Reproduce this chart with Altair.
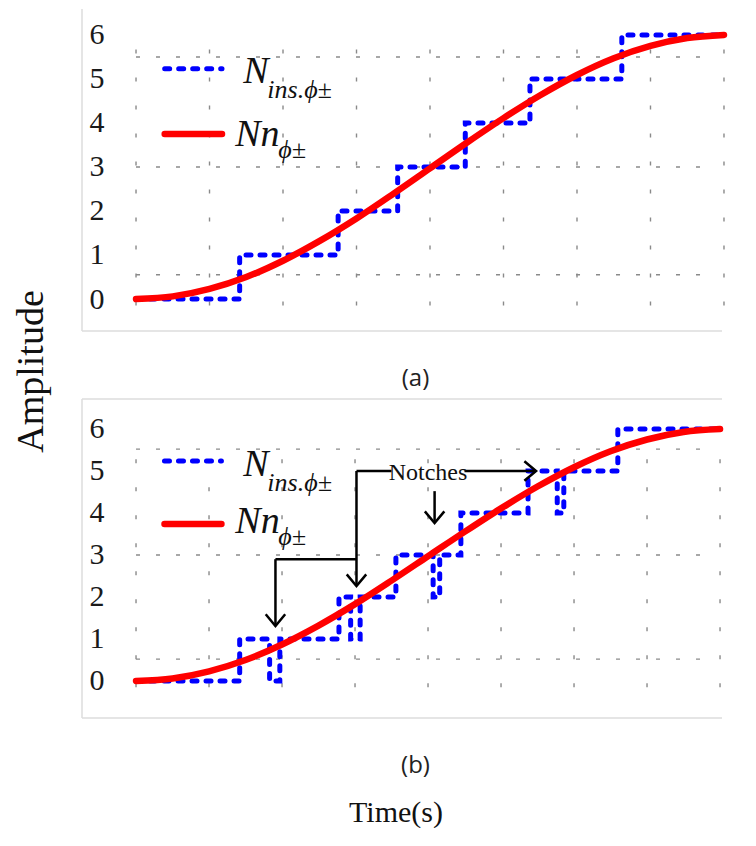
import altair as alt
import pandas as pd

# ---------------- data ----------------
# Panel (a): ideal staircase, step-after corner points (time, level)
step_a_t = [0.0, 1.41, 2.75, 3.56, 4.48, 5.36, 6.61, 8.0]
step_a_v = [0, 1, 2, 3, 4, 5, 6, 6]

# Panel (b): staircase with notches
step_b_t = [0.0, 1.42, 1.83, 1.97, 2.78, 2.94, 3.07, 3.56, 4.07, 4.16,
            4.45, 5.37, 5.77, 5.86, 6.60, 8.0]
step_b_v = [0, 1, 0, 1, 2, 1, 2, 3, 2, 3, 4, 5, 4, 5, 6, 6]

# Smooth reference curve Nn
curve_t = [0.0, 0.5, 1.0, 1.5, 2.0, 2.5, 3.0, 3.5, 4.0, 4.5, 5.0, 5.5,
           6.0, 6.5, 7.0, 7.5, 8.0]
curve_v = [0.0, 0.06, 0.23, 0.50, 0.87, 1.32, 1.83, 2.39, 2.97, 3.55,
           4.11, 4.63, 5.09, 5.47, 5.75, 5.93, 6.0]

y_ticks = [0, 1, 2, 3, 4, 5, 6]
grid_x = [0, 1, 2, 3, 4, 5, 6, 7, 8]
grid_y_a = [0.55, 3.0, 5.5]
grid_y_b = [0.52, 3.0, 5.52]
grid_v_span = (-0.15, 5.85)
grid_h_span = (0.0, 7.85)

legend_line_t = (0.39, 1.17)
legend_a = {"ins_v": 5.23, "nn_v": 3.75, "ins_txt_t": 1.46, "ins_txt_v": 4.91,
            "nn_txt_t": 1.35, "nn_txt_v": 3.48}
legend_b = {"ins_v": 5.24, "nn_v": 3.74, "ins_txt_t": 1.47, "ins_txt_v": 4.88,
            "nn_txt_t": 1.36, "nn_txt_v": 3.52}

# Notch annotation (panel b) in data units
ann_lines_t = [3.02, 3.02, 1.91, 1.91, 4.50, 4.09]
ann_lines_t2 = [3.50, 3.02, 3.02, 1.91, 5.48, 4.09]
ann_lines_v = [5.0, 5.0, 2.9, 2.9, 5.0, 4.52]
ann_lines_v2 = [5.0, 2.30, 2.9, 1.35, 5.0, 3.80]
arrow_down_t = [1.91, 3.02, 4.09]
arrow_down_v = [1.31, 2.26, 3.76]
arrow_right_t = [5.48]
arrow_right_v = [5.0]
notch_label = ("Notches", 4.0, 4.95)

SERIF = "Liberation Serif"
W = 640
H_A, H_B = 322, 319
XDOM_A = [-0.735, 7.973]
YDOM_A = [-0.727, 6.59]
XDOM_B = [-0.740, 8.027]
YDOM_B = [-0.881, 6.714]

CHEVRON_DOWN = "M-1,-1.2L0,0L1,-1.2"
CHEVRON_RIGHT = "M-1.2,-1L0,0L-1.2,1"


def panel(xdom, ydom, H, step_t, step_v, ctime, cval, grid_y, leg, label,
          ytitle, top_frame, notches):
    xs = alt.Scale(domain=xdom, nice=False, zero=False)
    ys = alt.Scale(domain=ydom, nice=False, zero=False)
    yaxis = alt.Axis(values=y_ticks, format="d", orient="left", offset=-22,
                     labelPadding=0, ticks=False, tickSize=0, domain=False,
                     grid=False, labelFont=SERIF, labelFontSize=30,
                     labelColor="#1a1a1a", labelAlign="right",
                     labelBaseline="middle",
                     title=ytitle if ytitle else "",
                     titleFont=SERIF, titleFontSize=38,
                     titleFontWeight="normal", titleColor="#111",
                     titleX=-62, titleY=362, titleAngle=270,
                     titleBaseline="alphabetic", titleAlign="center")
    xaxis = alt.Axis(labels=False, ticks=False, domain=False, grid=False,
                     title=label, titleFont="Open Sans", titleFontSize=24,
                     titleFontWeight="normal", titleColor="#222",
                     titleX=333, titleY=47, titleBaseline="middle")
    xenc = lambda f: alt.X(f, type="quantitative", scale=xs, axis=xaxis)
    yenc = lambda f: alt.Y(f, type="quantitative", scale=ys, axis=yaxis)

    layers = []
    # dashed grid
    gv = pd.DataFrame({"t": grid_x, "v0": [grid_v_span[0]] * len(grid_x),
                       "v1": [grid_v_span[1]] * len(grid_x)})
    layers.append(alt.Chart(gv).mark_rule(
        color="#8a8a8a", strokeWidth=1.4, strokeDash=[4, 24]).encode(
        x=xenc("t"), y=yenc("v0"), y2="v1"))
    gh = pd.DataFrame({"v": grid_y, "t0": [grid_h_span[0]] * len(grid_y),
                       "t1": [grid_h_span[1]] * len(grid_y)})
    layers.append(alt.Chart(gh).mark_rule(
        color="#8a8a8a", strokeWidth=1.4, strokeDash=[4, 16]).encode(
        y=yenc("v"), x=xenc("t0"), x2="t1"))

    # frame
    layers.append(alt.Chart(pd.DataFrame({"a": [0]})).mark_rule(
        color="#dcdcdc", strokeWidth=1.5).encode(
        x=alt.value(0), y=alt.value(0), y2=alt.value(H)))
    layers.append(alt.Chart(pd.DataFrame({"a": [0]})).mark_rule(
        color="#dcdcdc", strokeWidth=1.5).encode(
        x=alt.value(0), x2=alt.value(W), y=alt.value(H)))
    if top_frame:
        layers.append(alt.Chart(pd.DataFrame({"a": [0]})).mark_rule(
            color="#dcdcdc", strokeWidth=1.5).encode(
            x=alt.value(0), x2=alt.value(W), y=alt.value(0)))

    # staircase
    st = pd.DataFrame({"t": step_t, "v": step_v})
    layers.append(alt.Chart(st).mark_line(
        interpolate="step-after", color="#0000ff", strokeWidth=5,
        strokeDash=[5, 9], strokeCap="round").encode(
        x=xenc("t"), y=yenc("v")))
    # smooth curve
    cv = pd.DataFrame({"t": ctime, "v": cval})
    layers.append(alt.Chart(cv).mark_line(
        interpolate="monotone", color="#ff0000", strokeWidth=6.5,
        strokeCap="round").encode(x=xenc("t"), y=yenc("v")))

    # legend
    lg = pd.DataFrame({"t0": [legend_line_t[0]], "t1": [legend_line_t[1]],
                       "vb": [leg["ins_v"]], "vr": [leg["nn_v"]]})
    layers.append(alt.Chart(lg).mark_rule(
        color="#0000ff", strokeWidth=5, strokeDash=[5, 9],
        strokeCap="round").encode(x=xenc("t0"), x2="t1", y=yenc("vb")))
    layers.append(alt.Chart(lg).mark_rule(
        color="#ff0000", strokeWidth=6.5, strokeCap="round").encode(
        x=xenc("t0"), x2="t1", y=yenc("vr")))
    lt = pd.DataFrame({"t": [leg["ins_txt_t"], leg["nn_txt_t"]],
                       "v": [leg["ins_txt_v"], leg["nn_txt_v"]],
                       "main": ["N", "Nn"]})
    layers.append(alt.Chart(lt).mark_text(
        font=SERIF, fontStyle="italic", fontSize=38, align="left",
        baseline="alphabetic", color="#111").encode(
        x=xenc("t"), y=yenc("v"), text="main:N"))
    ls1 = lt.iloc[[0]].assign(sub=["ins.\u03d5\u00b1"])
    layers.append(alt.Chart(ls1).mark_text(
        font=SERIF, fontStyle="italic", fontSize=26, align="left",
        baseline="alphabetic", color="#111", dx=24, dy=15).encode(
        x=xenc("t"), y=yenc("v"), text="sub:N"))
    ls2 = lt.iloc[[1]].assign(sub=["\u03d5\u00b1"])
    layers.append(alt.Chart(ls2).mark_text(
        font=SERIF, fontStyle="italic", fontSize=26, align="left",
        baseline="alphabetic", color="#111", dx=43, dy=12).encode(
        x=xenc("t"), y=yenc("v"), text="sub:N"))

    if notches:
        al = pd.DataFrame({"t": ann_lines_t, "t2": ann_lines_t2,
                           "v": ann_lines_v, "v2": ann_lines_v2})
        layers.append(alt.Chart(al).mark_rule(
            color="black", strokeWidth=2.5).encode(
            x=xenc("t"), x2="t2", y=yenc("v"), y2="v2"))
        ad = pd.DataFrame({"t": arrow_down_t, "v": arrow_down_v})
        layers.append(alt.Chart(ad).mark_point(
            shape=CHEVRON_DOWN, size=380, filled=False, color="black",
            strokeWidth=2.5, opacity=1).encode(x=xenc("t"), y=yenc("v")))
        ar = pd.DataFrame({"t": arrow_right_t, "v": arrow_right_v})
        layers.append(alt.Chart(ar).mark_point(
            shape=CHEVRON_RIGHT, size=380, filled=False, color="black",
            strokeWidth=2.5, opacity=1).encode(x=xenc("t"), y=yenc("v")))
        nt = pd.DataFrame({"t": [notch_label[1]], "v": [notch_label[2]],
                           "txt": [notch_label[0]]})
        layers.append(alt.Chart(nt).mark_text(
            font=SERIF, fontSize=24, align="center", baseline="middle",
            color="#111").encode(x=xenc("t"), y=yenc("v"), text="txt:N"))

    return alt.layer(*layers).properties(width=W, height=H)


top = panel(XDOM_A, YDOM_A, H_A, step_a_t, step_a_v, curve_t, curve_v,
            grid_y_a, legend_a, "(a)", "Amplitude", False, False)
bottom = panel(XDOM_B, YDOM_B, H_B, step_b_t, step_b_v, curve_t, curve_v,
               grid_y_b, legend_b, "(b)", None, True, True).properties(
    title=alt.TitleParams("Time(s)", orient="bottom", font=SERIF,
                          fontSize=30, fontWeight="normal", color="#111",
                          anchor="middle", frame="group", dx=-6, offset=45,
                          baseline="alphabetic"))

chart = alt.vconcat(top, bottom, spacing=68, bounds="flush").properties(
    padding={"left": 4, "top": 0, "right": 0, "bottom": 0}
).configure_view(stroke=None).configure_axis(grid=False)

chart.save("out.html", embed_options={"renderer": "svg", "actions": False})
